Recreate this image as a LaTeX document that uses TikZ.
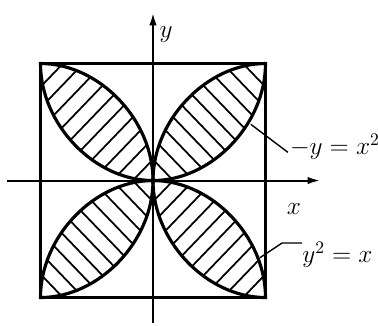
\documentclass[tikz,border=0pt]{standalone}
\usepackage{amsmath}
\usepackage{tikz}
\usetikzlibrary{arrows.meta,calc}
\tikzset{
  axisline/.style={line width=1.1pt,-{Latex[length=7pt,width=4.2pt]}},
  frameline/.style={line width=1.3pt},
  leafline/.style={line width=1.8pt},
  hatchline/.style={line width=1pt},
  leaderline/.style={line width=0.8pt},
  labeltext/.style={font=\Large,inner sep=0pt}
}

\begin{document}
\begin{tikzpicture}[x=2.25cm,y=2.34cm]
  \useasboundingbox (-1.36,-1.235) rectangle (2.0,1.543);
  \foreach \sx/\sy in {1/1,-1/1,-1/-1,1/-1}{
    \begin{scope}[xscale=\sx,yscale=\sy]
      \begin{scope}
        \clip (0,0) .. controls (0.52,0) and (1,0.48) .. (1,1)
          .. controls (0.48,1) and (0,0.52) .. (0,0);
        \foreach \c in {0.18,0.36,...,1.85}
          \draw[hatchline] (\c,0) -- (0,\c);
      \end{scope}
      \draw[leafline] (0,0) .. controls (0.52,0) and (1,0.48) .. (1,1)
        .. controls (0.48,1) and (0,0.52) .. cycle;
    \end{scope}
  }
  \draw[frameline] (-1,-1) rectangle (1,1);
  \coordinate (xs) at (-1.298,0);
  \coordinate (xe) at (1.484,0);
  \coordinate (ys) at (0,-1.218);
  \coordinate (ye) at (0,1.432);
  \draw[axisline] (xs) -- (xe);
  \draw[axisline] (ys) -- (ye);
  \node[labeltext] (ylab) at (0.116,1.252) {$y$};
  \node[labeltext] (xlab) at (1.253,-0.244) {$x$};
  \node[labeltext,anchor=west] (lab1) at (1.215,0.286) {$-y=x^2$};
  \node[labeltext,anchor=west] (lab2) at (1.325,-0.637) {$y^2=x$};
  \coordinate (p1) at (0.87,0.48);
  \coordinate (p2) at (0.95,-0.66);
  \coordinate (q2) at (1.147,-0.534);
  \draw[leaderline] (p1) -- ([xshift=-1pt,yshift=-3pt]lab1.west);
  \draw[leaderline] (p2) -- (q2) -- (q2 -| lab2.west);
\end{tikzpicture}
\end{document}
